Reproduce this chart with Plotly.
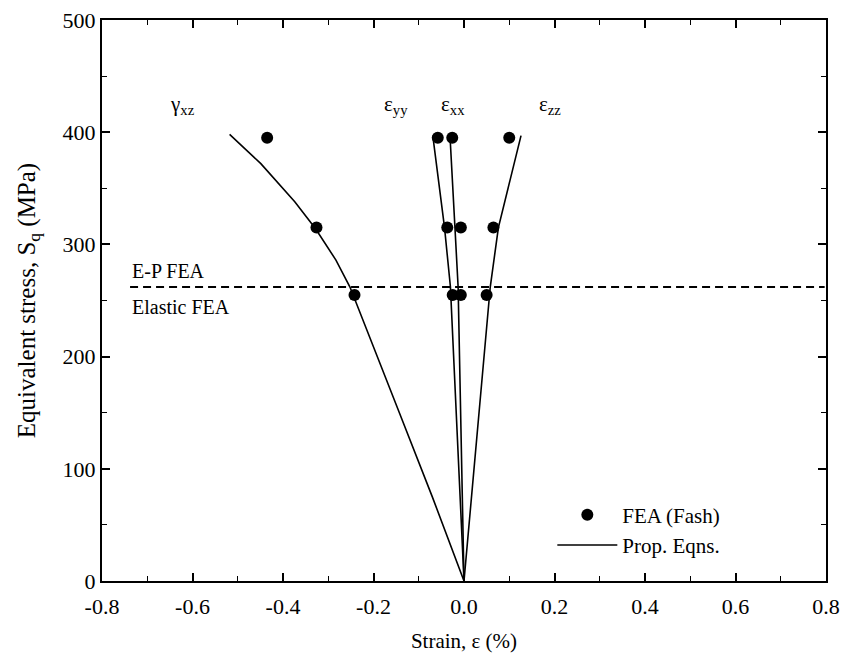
import plotly.graph_objects as go

# FEA (Fash) results: stress levels and strain components (%)
fea_stress = [255, 315, 395]
fea_gxz = [-0.242, -0.326, -0.435]
fea_eyy = [-0.025, -0.037, -0.058]
fea_exx = [-0.007, -0.007, -0.026]
fea_ezz = [0.050, 0.065, 0.100]

# Proportional-equation curves (strain %, stress MPa)
prop_gxz_x = [0.0, -0.070, -0.142, -0.226, -0.252, -0.283, -0.328, -0.374, -0.449, -0.518]
prop_gxz_y = [0, 75, 149, 236, 262, 286, 314, 338, 372, 398]
prop_eyy_x = [0.0, -0.015, -0.030, -0.043, -0.069]
prop_eyy_y = [0, 130, 262, 315, 397]
prop_exx_x = [0.0, -0.013, -0.020, -0.031]
prop_exx_y = [0, 262, 315, 397]
prop_ezz_x = [0.0, 0.058, 0.076, 0.126]
prop_ezz_y = [0, 262, 315, 397]

# Boundary between elastic and elastic-plastic FEA
ep_limit_x = [-0.738, 0.797]
ep_limit_y = [262, 262]

# Component labels
comp_labels = ["γ<sub>xz</sub>", "ε<sub>yy</sub>", "ε<sub>xx</sub>", "ε<sub>zz</sub>"]
comp_label_x = [-0.623, -0.150, -0.024, 0.19]
comp_label_y = [424, 424, 424, 424]

x_ticks = [-0.8, -0.6, -0.4, -0.2, 0.0, 0.2, 0.4, 0.6, 0.8]
x_ticktext = ["-0.8", "-0.6", "-0.4", "-0.2", "0.0", "0.2", "0.4", "0.6", "0.8"]
y_ticks = [0, 100, 200, 300, 400, 500]

FONT = "Liberation Serif"

fig = go.Figure()

line_style = dict(color="black", width=1.6)
for i, (xs, ys) in enumerate([(prop_gxz_x, prop_gxz_y), (prop_eyy_x, prop_eyy_y),
                              (prop_exx_x, prop_exx_y), (prop_ezz_x, prop_ezz_y)]):
    fig.add_trace(go.Scatter(
        x=xs, y=ys, mode="lines", line=line_style,
        name="Prop. Eqns.", showlegend=(i == 0), legendrank=2, hoverinfo="skip"))

fig.add_trace(go.Scatter(
    x=ep_limit_x, y=ep_limit_y, mode="lines",
    line=dict(color="black", width=2, dash="8px,5px"), showlegend=False, hoverinfo="skip"))

all_x = fea_gxz + fea_eyy + fea_exx + fea_ezz
all_y = fea_stress * 4
fig.add_trace(go.Scatter(
    x=all_x, y=all_y, mode="markers", name="FEA (Fash)", legendrank=1,
    marker=dict(color="black", size=12, symbol="circle")))

for t, x, y in zip(comp_labels, comp_label_x, comp_label_y):
    fig.add_annotation(x=x, y=y, text=t, showarrow=False,
                       font=dict(family=FONT, size=21, color="black"))

fig.add_annotation(x=-0.738, y=276, text="E-P FEA", showarrow=False, xanchor="left",
                   font=dict(family=FONT, size=20, color="black"))
fig.add_annotation(x=-0.738, y=244, text="Elastic FEA", showarrow=False, xanchor="left",
                   font=dict(family=FONT, size=20, color="black"))

axis_common = dict(
    showline=True, linecolor="black", linewidth=2, mirror="ticks",
    ticks="inside", ticklen=8, tickwidth=1.5, tickcolor="black",
    showgrid=False, zeroline=False, automargin=False,
    tickfont=dict(family=FONT, size=22, color="black"),
)

fig.update_xaxes(
    range=[-0.8, 0.8], tickvals=x_ticks, ticktext=x_ticktext, ticklabelstandoff=5,
    minor=dict(ticks="inside", ticklen=5, dtick=0.1, tickcolor="black", tickwidth=1),
    title=dict(text="Strain, ε (%)", font=dict(family=FONT, size=21, color="black"), standoff=15),
    **axis_common)
fig.update_yaxes(
    range=[0, 500], tickvals=y_ticks, ticklabelstandoff=0,
    minor=dict(ticks="inside", ticklen=5, dtick=50, tickcolor="black", tickwidth=1),
    title=dict(text="Equivalent stress, S<sub>q</sub> (MPa)",
               font=dict(family=FONT, size=25, color="black"), standoff=20),
    **axis_common)

fig.update_layout(
    width=843, height=654,
    margin=dict(l=102, r=17, t=20, b=73),
    font=dict(family=FONT, color="black"),
    plot_bgcolor="white", paper_bgcolor="white",
    showlegend=True,
    legend=dict(x=0.622, y=0.154, xanchor="left", yanchor="top", itemwidth=60,
                bgcolor="rgba(0,0,0,0)", borderwidth=0, tracegroupgap=0,
                font=dict(family=FONT, size=21, color="black")),
)

fig.write_html("out.html")
